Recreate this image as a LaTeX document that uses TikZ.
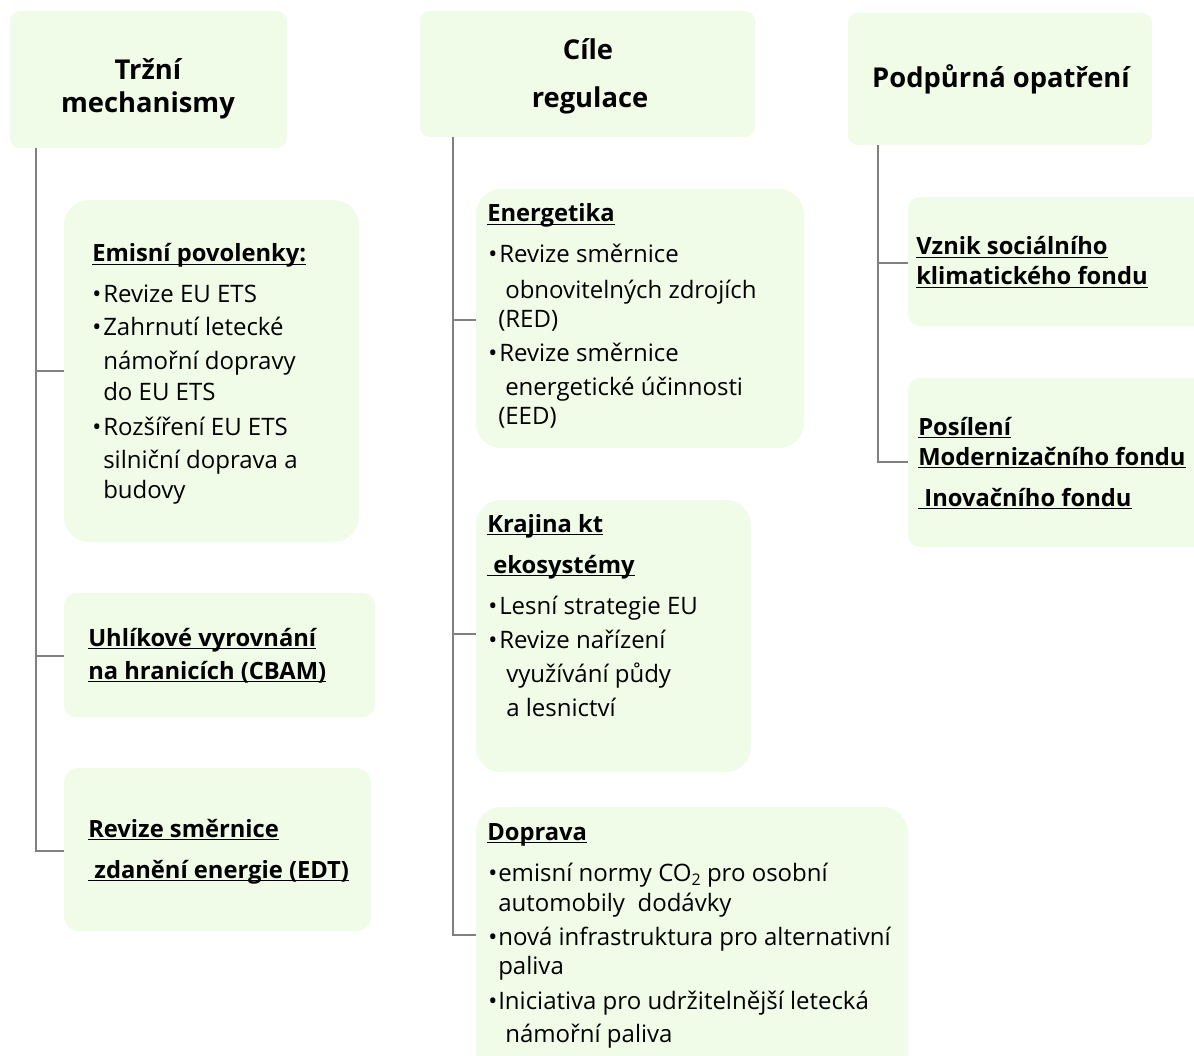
\documentclass[tikz,border=0pt]{standalone}
\usepackage{fontspec}
\setmainfont{Open Sans}
\usetikzlibrary{fit}
\definecolor{boxfill}{HTML}{F0FBE8}
\definecolor{conngray}{RGB}{128,128,128}
\newcommand\myul[1]{\setbox0\hbox{#1}\rlap{\rule[-2.4pt]{\wd0}{1.1pt}}\box0}
\newcommand\mysub[1]{\raisebox{-3.2pt}{\fontsize{12}{12}\selectfont #1}}
\tikzset{
  box/.style={fill=boxfill, draw=none, inner sep=0pt},
  conn/.style={draw=conngray, line width=2.1pt},
  txt/.style={inner sep=0pt, anchor=base west, font=\fontsize{18}{21}\selectfont},
  sub/.style={inner sep=0pt, anchor=base west, font=\fontsize{17.8}{21}\selectfont\bfseries},
  head/.style={inner sep=0pt, anchor=base, font=\fontsize{20.5}{24}\selectfont\bfseries},
}
\begin{document}
\begin{tikzpicture}[x=0.75pt,y=-0.75pt]
\useasboundingbox (0,0) rectangle (1194,1055);
% header boxes
\node[box, rounded corners=7.5pt, fit={(10,11) (287,148)}] (hb1) {};
\node[box, rounded corners=7.5pt, fit={(420,11) (755,137)}] (hb2) {};
\node[box, rounded corners=7.5pt, fit={(848,13) (1152,145)}] (hb3) {};
% content boxes
\node[box, rounded corners=19pt, fit={(64,200) (359,542)}] (b1) {};
\node[box, rounded corners=9pt, fit={(64,593) (375,717)}] (b2) {};
\node[box, rounded corners=11pt, fit={(64,768) (371,931)}] (b3) {};
\node[box, rounded corners=19pt, fit={(476,189) (804,448)}] (b4) {};
\node[box, rounded corners=19pt, fit={(476,500) (751,772)}] (b5) {};
\node[box, rounded corners=19pt, fit={(476,807) (908,1090)}] (b6) {};
\node[box, rounded corners=9pt, fit={(908,197) (1220,326)}] (b7) {};
\node[box, rounded corners=9pt, fit={(908,378) (1220,547)}] (b8) {};
% connectors
\coordinate (L0) at (36,148);
\coordinate (L1) at (36,371);
\coordinate (L2) at (36,656);
\coordinate (L3) at (36,851);
\draw[conn] (L0) |- (b3.west |- L3);
\draw[conn] (L1) -- (b1.west |- L1);
\draw[conn] (L2) -- (b2.west |- L2);
\coordinate (M0) at (453,137);
\coordinate (M1) at (453,320);
\coordinate (M2) at (453,634);
\coordinate (M3) at (453,935);
\draw[conn] (M0) |- (b6.west |- M3);
\draw[conn] (M1) -- (b4.west |- M1);
\draw[conn] (M2) -- (b5.west |- M2);
\coordinate (R0) at (878,145);
\coordinate (R1) at (878,263);
\coordinate (R2) at (878,462);
\draw[conn] (R0) |- (b8.west |- R2);
\draw[conn] (R1) -- (b7.west |- R1);
% headers
\node[head] (h1a) at (148,80) {Tržní};
\node[head] (h1b) at (148,113) {mechanismy};
\node[head] (h2a) at (588,60) {Cíle};
\node[head] (h2b) at (590,108) {regulace};
\node[head] (h3a) at (1001,88) {Podpůrná opatření};
% left column
\node[sub] (e0) at (92,262) {\myul{Emisní povolenky:}};
\node[txt] (e1d) at (92,302) {•};
\node[txt] (e1) at (103,302) {Revize EU ETS};
\node[txt] (e2d) at (92,335) {•};
\node[txt] (e2) at (103,335) {Zahrnutí letecké};
\node[txt] (e3) at (103,369) {námořní dopravy};
\node[txt] (e4) at (103,400) {do EU ETS};
\node[txt] (e5d) at (92,435) {•};
\node[txt] (e5) at (103,435) {Rozšíření EU ETS};
\node[txt] (e6) at (103,468) {silniční doprava a};
\node[txt] (e7) at (103,498) {budovy};
\node[sub] (u1) at (88,646) {\myul{Uhlíkové vyrovnání}};
\node[sub] (u2) at (88,679) {\myul{na hranicích (CBAM)}};
\node[sub] (z1) at (88,837) {\myul{Revize směrnice}};
\node[sub] (z2) at (88,878) {\myul{\ zdanění energie (EDT)}};
% middle column
\node[sub] (g0) at (487,222) {\myul{Energetika}};
\node[txt] (g1d) at (488,263) {•};
\node[txt] (g1) at (499,263) {Revize směrnice};
\node[txt] (g2) at (505,298) {obnovitelných zdrojích};
\node[txt] (g3) at (498,327) {(RED)};
\node[txt] (g4d) at (488,361) {•};
\node[txt] (g4) at (499,361) {Revize směrnice};
\node[txt] (g5) at (505,395) {energetické účinnosti};
\node[txt] (g6) at (498,424) {(EED)};
\node[sub] (k0) at (487,532) {\myul{Krajina kt}};
\node[sub] (k1) at (487,573) {\myul{\ ekosystémy}};
\node[txt] (k2d) at (488,614) {•};
\node[txt] (k2) at (499,614) {Lesní strategie EU};
\node[txt] (k3d) at (488,648) {•};
\node[txt] (k3) at (499,648) {Revize nařízení};
\node[txt] (k4) at (506,682) {využívání půdy};
\node[txt] (k5) at (506,716) {a lesnictví};
\node[sub] (d0) at (487,840) {\myul{Doprava}};
\node[txt] (d1d) at (488,881) {•};
\node[txt] (d1) at (498,881) {emisní normy CO\mysub{2} pro osobní};
\node[txt] (d2) at (498,911) {automobily\ \ dodávky};
\node[txt] (d3d) at (488,945) {•};
\node[txt] (d3) at (498,945) {nová infrastruktura pro alternativní};
\node[txt] (d4) at (498,974) {paliva};
\node[txt] (d5d) at (488,1009) {•};
\node[txt] (d5) at (498,1009) {Iniciativa pro udržitelnější letecká};
\node[txt] (d6) at (505,1042) {námořní paliva};
% right column
\node[sub] (v1) at (916,255) {\myul{Vznik sociálního}};
\node[sub] (v2) at (916,285) {\myul{klimatického fondu}};
\node[sub] (p1) at (918,435) {\myul{Posílení}};
\node[sub] (p2) at (918,465) {\myul{Modernizačního fondu}};
\node[sub] (p3) at (918,506) {\myul{\ Inovačního fondu}};
\end{tikzpicture}
\end{document}
